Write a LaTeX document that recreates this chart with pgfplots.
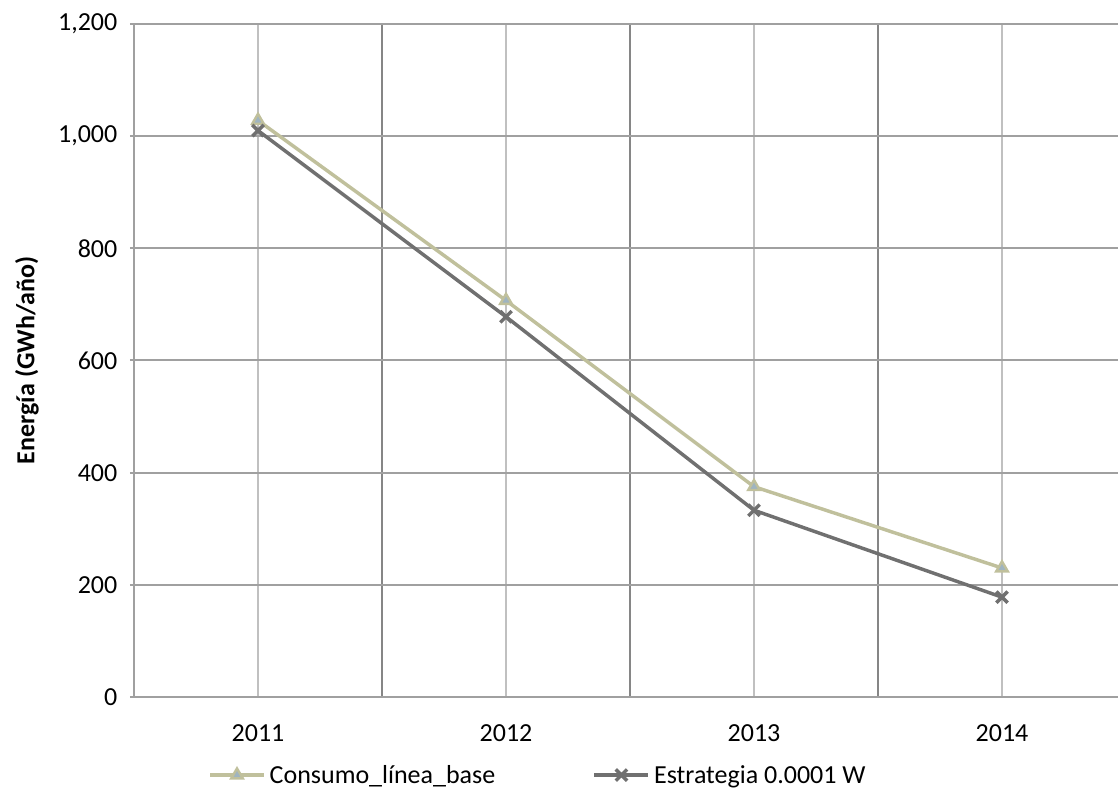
\documentclass[border=0pt]{standalone}
\usepackage{pgfplots}
\pgfplotsset{compat=1.18}
\usepackage{fontspec}
\setmainfont{Carlito}
\definecolor{khaki}{HTML}{C0C09C}
\definecolor{dgray}{HTML}{707070}
\definecolor{markfill}{HTML}{9FB4C0}
\definecolor{gridA}{HTML}{A0A0A0}
\definecolor{gridB}{HTML}{868686}
\definecolor{gridC}{HTML}{C0C0C0}
\begin{document}
\begin{tikzpicture}
\begin{axis}[
  at={(100.5pt,69pt)}, anchor=south west,
  scale only axis, width=744pt, height=504.75pt,
  xmin=-0.5, xmax=3.5, ymin=0, ymax=1200,
  xtick={0,1,2,3}, xticklabels={2011,2012,2013,2014},
  minor xtick={-0.5,0.5,1.5,2.5,3.5},
  ytick={0,200,...,1200},
  grid=both,
  major x grid style={gridC, line width=1.5pt},
  minor x grid style={gridB, line width=1.5pt},
  major y grid style={gridA, line width=1.5pt},
  axis line style={gridA, line width=1.5pt},
  x tick style={draw=none}, minor x tick style={draw=none},
  y tick style={gridA, line width=1.5pt},
  ytick pos=left, tick align=outside, major tick length=3pt,
  font=\fontsize{19.5}{23}\selectfont,
  /pgf/number format/assume math mode=true,
  /pgf/number format/1000 sep={,},
  yticklabel style={xshift=-6pt},
  xticklabel style={yshift=-14pt},
  every axis y label/.style={at={(rel axis cs:-0.1079,0.5)}, rotate=90, anchor=center, font=\fontsize{19.5}{23}\selectfont\bfseries},
  ylabel={Energía (GWh/año)},
  legend columns=2,
  legend style={draw=none, inner sep=0pt, at={(0.0746,-0.116)}, anchor=west, font=\fontsize{19.5}{23}\selectfont,
    nodes={inner sep=1pt, inner xsep=3pt},
    /tikz/every even column/.append style={column sep=70pt}},
  legend image code/.code={\draw[mark repeat=2,mark phase=2] plot coordinates {(0pt,0pt) (20.25pt,0pt) (40.5pt,0pt)};},
]
\addplot[khaki, line width=2.6pt, mark=triangle*, mark size=5pt,
  mark options={fill=markfill, draw=khaki, line width=1.8pt}]
  coordinates {(0,1028) (1,707) (2,375) (3,230)};
\addlegendentry{Consumo\_línea\_base}
\addplot[dgray, line width=2.6pt, mark=x, mark size=6pt,
  mark options={line width=2.6pt}]
  coordinates {(0,1010) (1,678) (2,333) (3,178)};
\addlegendentry{Estrategia 0.0001 W}
\end{axis}
\pgfresetboundingbox
\path[use as bounding box] (0pt,0pt) rectangle (838.5pt,591.75pt);
\end{tikzpicture}
\end{document}
